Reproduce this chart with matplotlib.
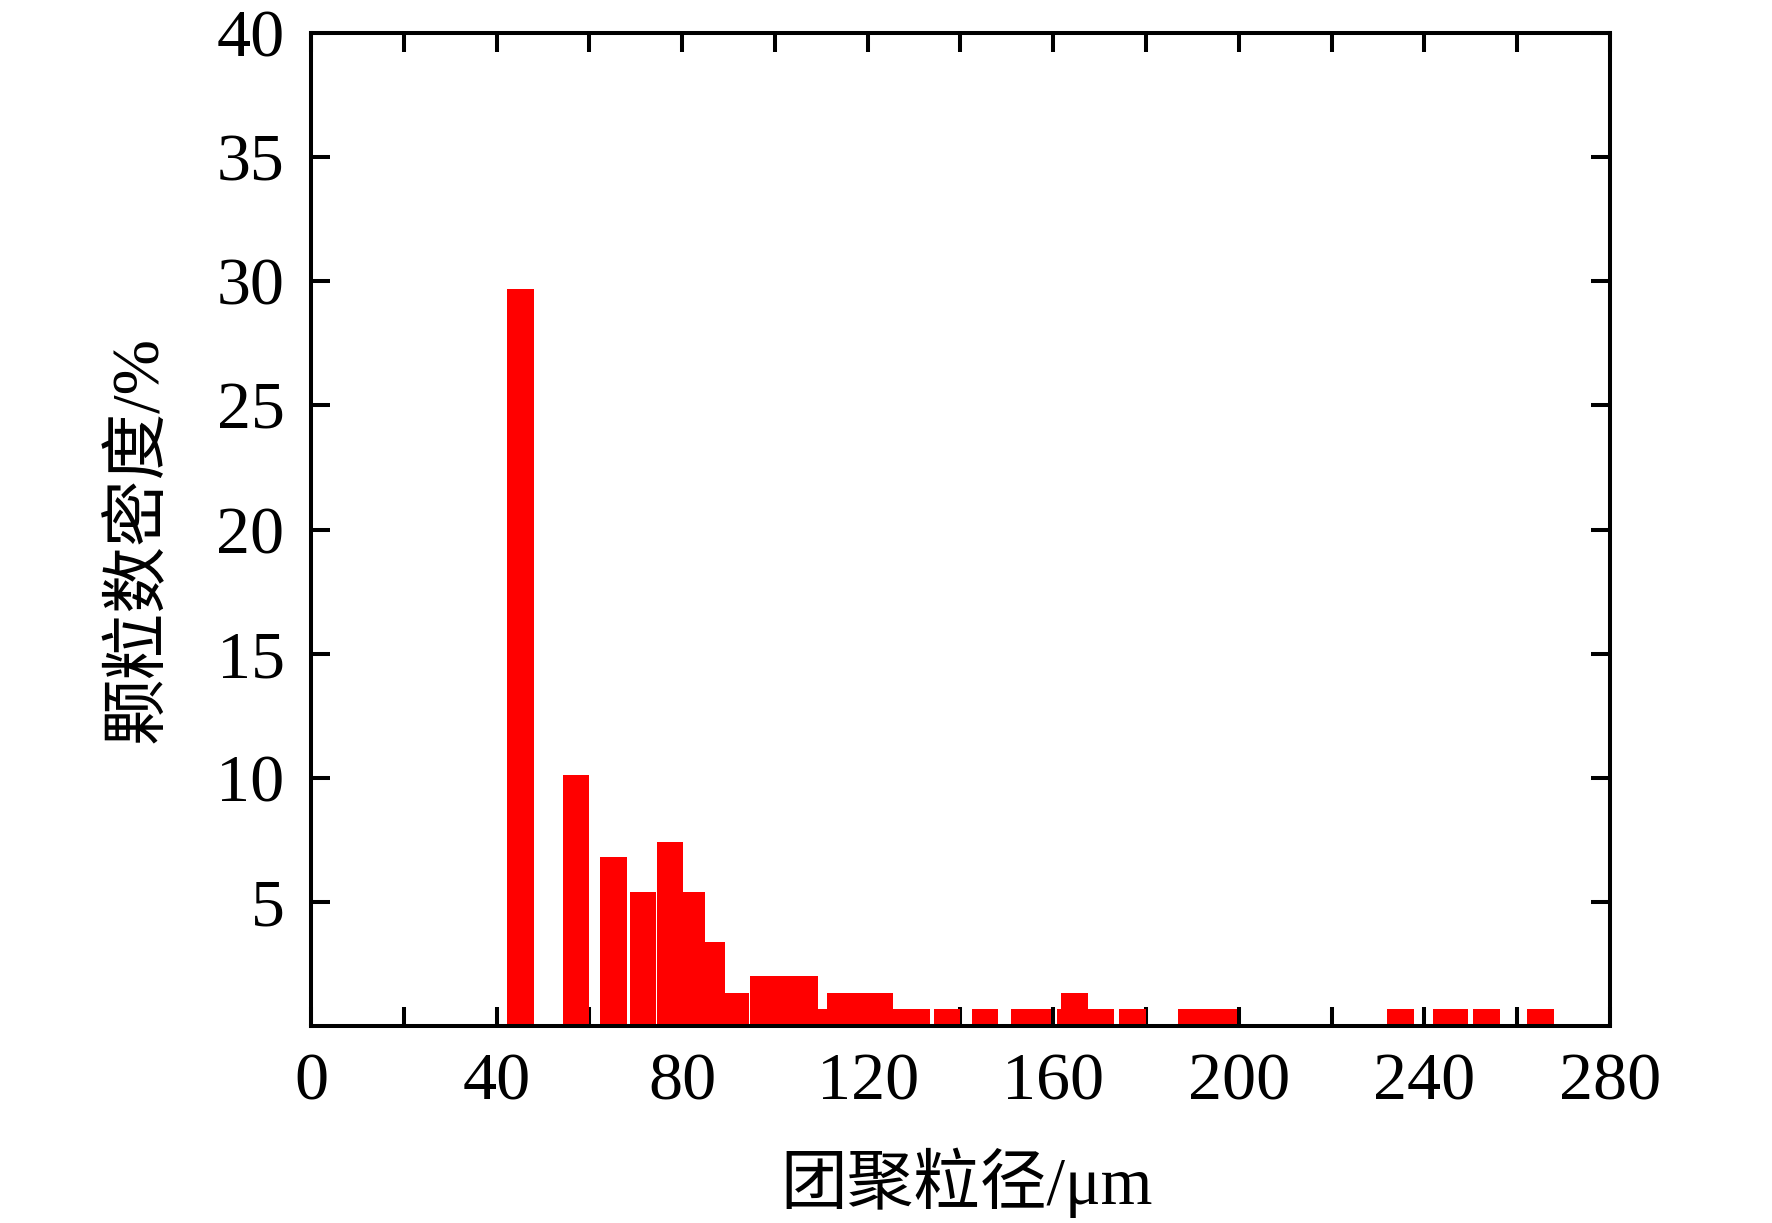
import matplotlib
matplotlib.use("Agg")
import matplotlib.pyplot as plt
from matplotlib.ticker import MultipleLocator

plt.rcParams['font.family'] = ['Liberation Serif', 'Noto Sans CJK SC', 'DejaVu Sans']
plt.rcParams['axes.unicode_minus'] = False

# bar centres (um) and number density (%)
sizes = [45.15, 57.1, 65.2, 71.55, 77.35, 82.05, 86.35, 91.65, 97.45,
         103.15, 106.35, 108.45, 114.15, 118.5, 122.65, 128.4, 130.55,
         137.1, 145.3, 153.65, 156.75, 163.75, 164.55, 170.15, 177.1,
         189.75, 193.2, 196.75, 234.9, 244.65, 246.65, 253.45, 265.05]
density = [29.7, 10.1, 6.8, 5.4, 7.4, 5.4, 3.4, 1.35, 2.0,
           2.0, 2.0, 0.68, 1.35, 1.35, 1.35, 0.68, 0.68,
           0.68, 0.68, 0.68, 0.68, 0.68, 1.35, 0.68, 0.68,
           0.68, 0.68, 0.68, 0.68, 0.68, 0.68, 0.68, 0.68]
x_major = [0, 40, 80, 120, 160, 200, 240, 280]
y_major = [5, 10, 15, 20, 25, 30, 35, 40]

fig = plt.figure(figsize=(17.72, 12.23), dpi=100)
ax = fig.add_axes([0.1755, 0.161, 0.733, 0.812])

ax.bar(sizes, density, width=5.7, color='#ff0000', edgecolor='none', zorder=2)

ax.set_xlim(0, 280)
ax.set_ylim(0, 40)
ax.set_xticks(x_major)
ax.set_yticks(y_major)
ax.xaxis.set_minor_locator(MultipleLocator(20))

for s in ax.spines.values():
    s.set_linewidth(2.9)
    s.set_zorder(3)
ax.tick_params(which='both', direction='in', top=True, right=True,
               length=14, width=2.9, labelsize=49, pad=19)
ax.tick_params(axis='y', which='minor', left=False, right=False)

ax.set_xlabel('团聚粒径/μm', fontsize=48)
ax.set_ylabel('颗粒数密度/%', fontsize=48)
ax.xaxis.set_label_coords(0.505, -0.122)
ax.yaxis.set_label_coords(-0.108, 0.49)

fig.savefig('out.png', dpi=100)
